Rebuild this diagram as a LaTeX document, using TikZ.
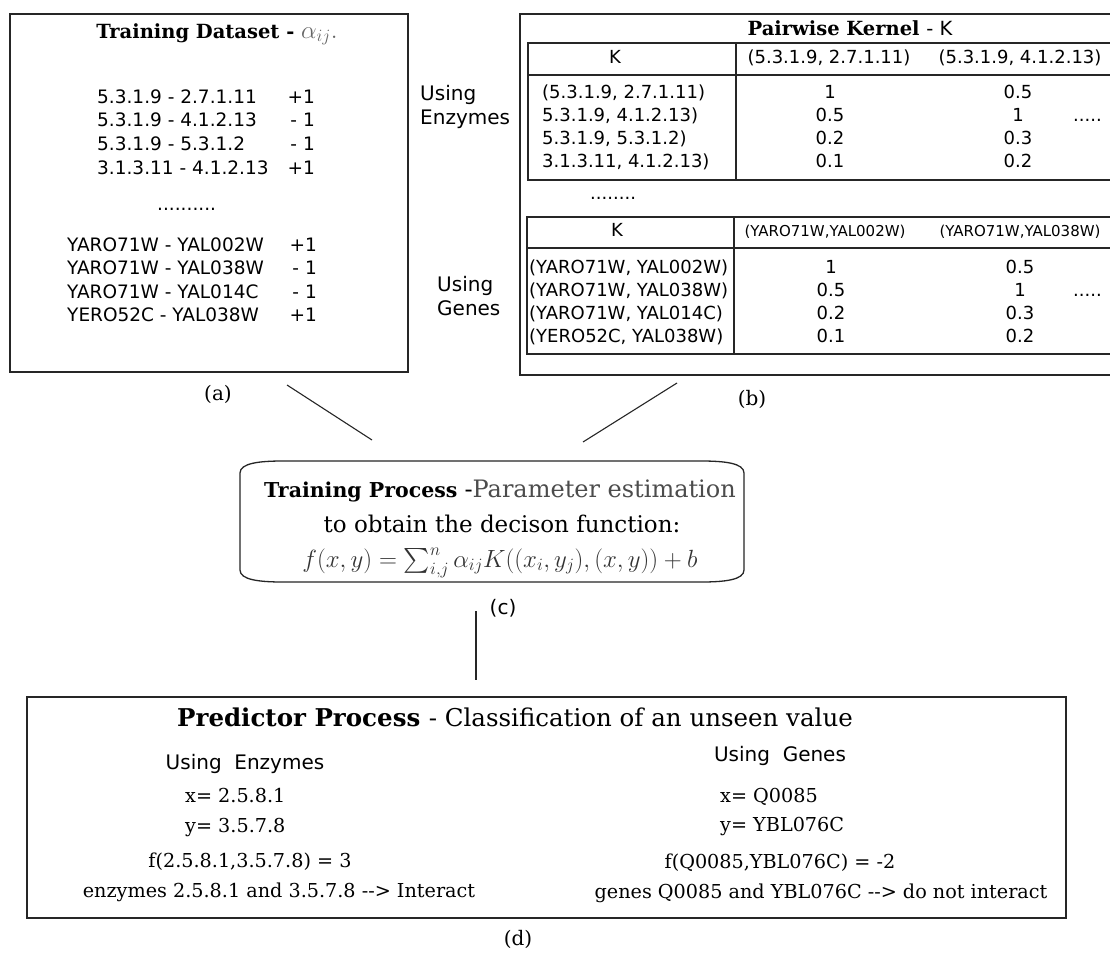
\documentclass[tikz,border=0pt]{standalone}
\usepackage{amsmath}
\usepackage{fontspec}
\setmainfont{DejaVu Serif}
\setsansfont{DejaVu Sans}

\tikzset{
  boxline/.style={line width=1.3pt, draw=black!85},
  cellline/.style={line width=1.2pt, draw=black!85},
  link/.style={line width=1.1pt, draw=black!85},
  cell/.style={inner sep=0pt, font=\sffamily\fontsize{18}{22}\selectfont},
  rowcell/.style={inner sep=0pt, font=\sffamily\fontsize{18.5}{22}\selectfont},
  smallcell/.style={inner sep=0pt, font=\sffamily\fontsize{15}{18}\selectfont},
  using/.style={inner sep=0pt, align=left, font=\sffamily\fontsize{20}{24}\selectfont},
  heading/.style={inner sep=0pt, font=\rmfamily\fontsize{19.5}{22}\selectfont},
  serif/.style={inner sep=0pt, font=\rmfamily\fontsize{19.2}{22}\selectfont},
  caption/.style={inner sep=0pt, font=\rmfamily\fontsize{20}{24}\selectfont},
}

\begin{document}
\begin{tikzpicture}[x=1pt, y=-1pt]

    % the frame
    \path[clip] (0,0) rectangle (1110,953);
    \fill[white] (0,0) rectangle (1110,953);

    % training dataset
    \draw[boxline] (10,14) rectangle (408,372);
    \node[heading, anchor=base] (dstitle) at (217,38)
        {\bfseries Training Dataset - \mdseries\textcolor{black!60}{\fontsize{23}{26}\selectfont$\alpha_{ij}.$}};
    \foreach \pair/\lab [count=\i] in {5.3.1.9 - 2.7.1.11/+1, 5.3.1.9 - 4.1.2.13/- 1,
                                       5.3.1.9 - 5.3.1.2/- 1, 3.1.3.11 - 4.1.2.13/+1} {
        \node[rowcell, anchor=base west] (enz\i) at (97, {103+23.7*(\i-1)}) {\pair};
        \node[rowcell, anchor=base east] (enzlab\i) at (315, {103+23.7*(\i-1)}) {\lab};
    }
    \node[rowcell, anchor=base west] (dsdots) at (157,210) {..........};
    \foreach \pair/\lab [count=\i] in {YARO71W - YAL002W/+1, YARO71W - YAL038W/- 1,
                                       YARO71W - YAL014C/- 1, YERO52C - YAL038W/+1} {
        \node[rowcell, anchor=base west] (gen\i) at (67, {251+23.5*(\i-1)}) {\pair};
        \node[rowcell, anchor=base east] (genlab\i) at (317, {251+23.5*(\i-1)}) {\lab};
    }
    \node[caption, anchor=base] (la) at (218,400) {(a)};

    % pairwise kernel
    \draw[boxline] (520,14) rectangle (1130,375);
    \node[heading, anchor=base] (kntitle) at (850,35)
        {\bfseries Pairwise Kernel \sffamily\mdseries - K};

    % enzymes table
    \draw[cellline] (528,43) rectangle (1130,180);
    \draw[cellline] (528,75) -- (1130,75);
    \draw[cellline] (736,43) -- (736,180);
    \node[using, anchor=west] (useenz) at (420,107) {Using\\Enzymes};
    \node[cell, anchor=base] (kenz) at (615,63) {K};
    \node[cell, anchor=base] (henz1) at (829,63) {(5.3.1.9, 2.7.1.11)};
    \node[cell, anchor=base] (henz2) at (1020,63) {(5.3.1.9, 4.1.2.13)};
    \foreach \pair/\va/\vb [count=\i] in {{(5.3.1.9, 2.7.1.11)}/1/0.5, {5.3.1.9, 4.1.2.13)}/0.5/1,
                                          {5.3.1.9, 5.3.1.2)}/0.2/0.3, {3.1.3.11, 4.1.2.13)}/0.1/0.2} {
        \node[cell, anchor=base west] (renz\i) at (542, {98+23.3*(\i-1)}) {\pair};
        \node[cell, anchor=base] (venz\i) at (830, {98+23.3*(\i-1)}) {\va};
        \node[cell, anchor=base] (wenz\i) at (1018, {98+23.3*(\i-1)}) {\vb};
    }
    \node[cell, anchor=base west] (enzmore) at (1073,121) {.....};
    \node[cell, anchor=base west] (kndots) at (590,199) {........};

    % genes table
    \draw[cellline] (527,217) rectangle (1130,354);
    \draw[cellline] (527,248) -- (1130,248);
    \draw[cellline] (734,217) -- (734,354);
    \node[using, anchor=west] (usegen) at (437,296) {Using\\Genes};
    \node[cell, anchor=base] (kgen) at (617,236) {K};
    \node[smallcell, anchor=base] (hgen1) at (825,236) {(YARO71W,YAL002W)};
    \node[smallcell, anchor=base] (hgen2) at (1020,236) {(YARO71W,YAL038W)};
    \foreach \pair/\va/\vb [count=\i] in {{(YARO71W, YAL002W)}/1/0.5, {(YARO71W, YAL038W)}/0.5/1,
                                          {(YARO71W, YAL014C)}/0.2/0.3, {(YERO52C, YAL038W)}/0.1/0.2} {
        \node[cell, anchor=base west] (rgen\i) at (529, {273+23.3*(\i-1)}) {\pair};
        \node[cell, anchor=base] (vgen\i) at (831, {273+23.3*(\i-1)}) {\va};
        \node[cell, anchor=base] (wgen\i) at (1020, {273+23.3*(\i-1)}) {\vb};
    }
    \node[cell, anchor=base west] (genmore) at (1073,296) {.....};
    \node[caption, anchor=base] (lb) at (752,405) {(b)};

    % training process
    \draw[boxline] (240,473) .. controls (240,463) and (260,461) .. (283,461)
        -- (701,461) .. controls (724,461) and (744,463) .. (744,473)
        -- (744,570) .. controls (744,580) and (724,582) .. (701,582)
        -- (283,582) .. controls (260,582) and (240,580) .. (240,570) -- cycle;
    \node[heading, font=\rmfamily\fontsize{20.5}{24}\selectfont, anchor=base] (trtitle) at (500,497)
        {\bfseries Training Process \mdseries\fontsize{24}{26}\selectfont-\textcolor{black!70}{Parameter estimation}};
    \node[serif, font=\rmfamily\fontsize{23}{26}\selectfont, anchor=base] (trtext) at (502,532)
        {to obtain the decison function:};
    \node[inner sep=0pt, text height=17pt, text depth=6pt, font=\fontsize{25.5}{28}\selectfont,
          text=black!80, anchor=base] (trfun) at (500,567)
        {$f(x,y) = \sum_{i,j}^{n} \alpha_{ij} K((x_i,y_j),(x,y)) + b$};
    \node[cell, font=\sffamily\fontsize{20}{24}\selectfont, anchor=base] (lc) at (503,614) {(c)};

    % links
    \coordinate (afoot) at (287,385);
    \coordinate (bfoot) at (677,383);
    \coordinate (tra) at (372,440);
    \coordinate (trb) at (583,442);
    \coordinate (trfoot) at (476,611);
    \coordinate (prtop) at (476,680);
    \draw[link] (afoot) -- (tra);
    \draw[link] (bfoot) -- (trb);
    \draw[link] (trfoot) -- (prtop);

    % predictor process
    \draw[boxline] (27,697) rectangle (1066,918);
    \node[serif, font=\rmfamily\fontsize{24.5}{28}\selectfont, anchor=base] (prtitle) at (515,726)
        {\bfseries Predictor Process \mdseries - Classification of an unseen value};
    \node[using, anchor=base] (prenz) at (245,769) {Using\ \ Enzymes};
    \node[serif, anchor=base west] (xenz) at (185,802) {x= 2.5.8.1};
    \node[serif, anchor=base west] (yenz) at (185,832) {y= 3.5.7.8};
    \node[serif, anchor=base] (fenz) at (250,867) {f(2.5.8.1,3.5.7.8) = 3};
    \node[serif, anchor=base] (renz) at (279,897) {enzymes 2.5.8.1 and 3.5.7.8 -{}-{}> Interact};
    \node[using, anchor=base] (prgen) at (780,761) {Using\ \ Genes};
    \node[serif, anchor=base west] (xgen) at (720,802) {x= Q0085};
    \node[serif, anchor=base west] (ygen) at (720,831) {y= YBL076C};
    \node[serif, anchor=base] (fgen) at (780,868) {f(Q0085,YBL076C) = -2};
    \node[serif, anchor=base] (rgen) at (821,898) {genes Q0085 and YBL076C -{}-{}> do not interact};
    \node[caption, anchor=base] (ld) at (518,945) {(d)};

\end{tikzpicture}
\end{document}
